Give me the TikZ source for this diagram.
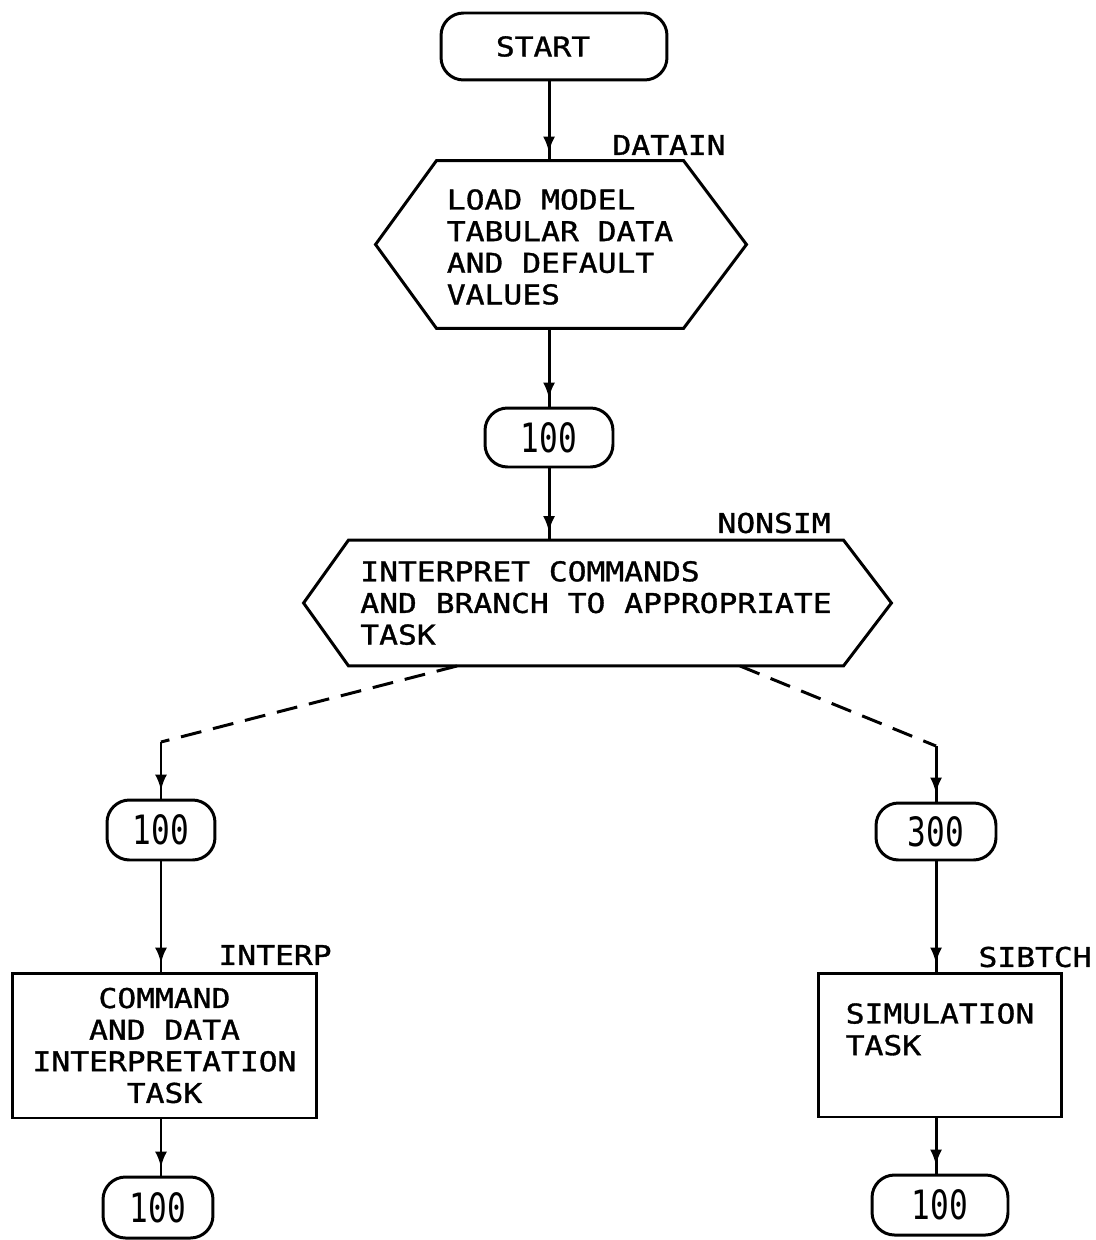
\documentclass[tikz,border=0pt]{standalone}
\usepackage{fontspec}
\newfontfamily\flowfont[FakeStretch=1.15,FakeBold=1.2]{DejaVu Sans Mono}
\newfontfamily\numfont[FakeStretch=0.77]{DejaVu Sans Mono}
\usetikzlibrary{arrows.meta,calc,decorations.markings}
\begin{document}
\begin{tikzpicture}[x=0.02cm,y=-0.02cm,line width=1.7pt,
  txt/.style={font=\flowfont\fontsize{15.5}{18}\selectfont},
  numtxt/.style={font=\numfont\fontsize{23}{26}\selectfont},
  term/.style={draw, rounded corners=0.45cm, inner sep=0pt},
  hexbody/.style={txt, align=left, inner sep=0pt},
  taskbox/.style={txt, draw, inner sep=0pt},
  lbl/.style={txt, inner sep=0pt, anchor=west},
  flow/.style={postaction={decorate,decoration={markings,
      mark=at position -4.5pt with {\arrow{Latex[length=0.32cm,width=0.24cm]}}}}},
  branch/.style={dash pattern=on 0.42cm off 0.24cm}]
\useasboundingbox (0,0) rectangle (1095,1240);

% terminals and process boxes
\node[term, txt, minimum width=4.52cm, minimum height=1.34cm] (start) at (554,46.5) {START\kern0.44cm};
\node[hexbody, minimum width=4.88cm, minimum height=3.3cm] (hex1) at (560,247)
  {LOAD MODEL\\TABULAR DATA\\AND DEFAULT\\VALUES};
\draw ($(hex1.north west)+(0,-2.5)$) -- ($(hex1.north east)+(0,-2.5)$) -- ($(hex1.east)+(63,-2.5)$)
  -- ($(hex1.south east)+(0,-2.5)$) -- ($(hex1.south west)+(0,-2.5)$) -- ($(hex1.west)+(-61,-2.5)$) -- cycle;
\node[term, numtxt, minimum width=2.56cm, minimum height=1.18cm] (n100) at (549,437.5) {100};
\node[hexbody, minimum width=9.84cm, minimum height=2.46cm] (hex2) at (596,603)
  {INTERPRET COMMANDS\\AND BRANCH TO APPROPRIATE\\TASK};
\draw (hex2.north west) -- (hex2.north east) -- ($(hex2.east)+(48,0)$) -- (hex2.south east)
  -- (hex2.south west) -- ($(hex2.west)+(-45,0)$) -- cycle;

\node[term, numtxt, minimum width=2.16cm, minimum height=1.2cm] (l100) at (161,830) {100};
\node[taskbox, align=center, minimum width=6.1cm, minimum height=2.9cm] (interp) at (164.5,1045.5)
  {COMMAND\\AND DATA\\INTERPRETATION\\TASK};
\node[term, numtxt, minimum width=2.2cm, minimum height=1.22cm] (l100b) at (158,1207.5) {100};

\node[term, numtxt, minimum width=2.4cm, minimum height=1.14cm] (r300) at (936,831.5) {300};
\node[taskbox, align=left, minimum width=4.88cm, minimum height=2.88cm] (sibtch) at (940,1045)
  {SIMULATION\\TASK\\\mbox{}};
\node[term, numtxt, minimum width=2.72cm, minimum height=1.2cm] (r100b) at (940,1205) {100};

% routine names
\node[lbl] (ldatain) at (611,145) {DATAIN};
\node[lbl] (lnonsim) at (716,523) {NONSIM};
\node[lbl] (linterp) at (217,955) {INTERP};
\node[lbl] (lsibtch) at (977,957) {SIBTCH};

% main line
\draw[flow] (start.south -| n100.center) -- ($(hex1.north -| n100.center)+(0,-2.5)$);
\draw[flow] ($(hex1.south -| n100.center)+(0,-2.5)$) -- (n100.north);
\draw[flow] (n100.south) -- (hex2.north -| n100.center);

% branches
\coordinate (cl) at (161,742);
\coordinate (cr) at (936,746);
\draw[branch] ($(hex2.south)+(-139,0)$) -- (cl);
\draw[flow] (cl) -- (l100.north);
\draw[branch] ($(hex2.south)+(144,0)$) -- (cr);
\draw[flow] (cr) -- (r300.north);

\draw[flow] (l100.south) -- (l100.south |- interp.north);
\draw[flow] (interp.south -| l100.south) -- (l100b.north -| l100.south);
\draw[flow] (r300.south) -- (r300.south |- sibtch.north);
\draw[flow] (sibtch.south -| r300.south) -- (r100b.north -| r300.south);
\end{tikzpicture}
\end{document}
